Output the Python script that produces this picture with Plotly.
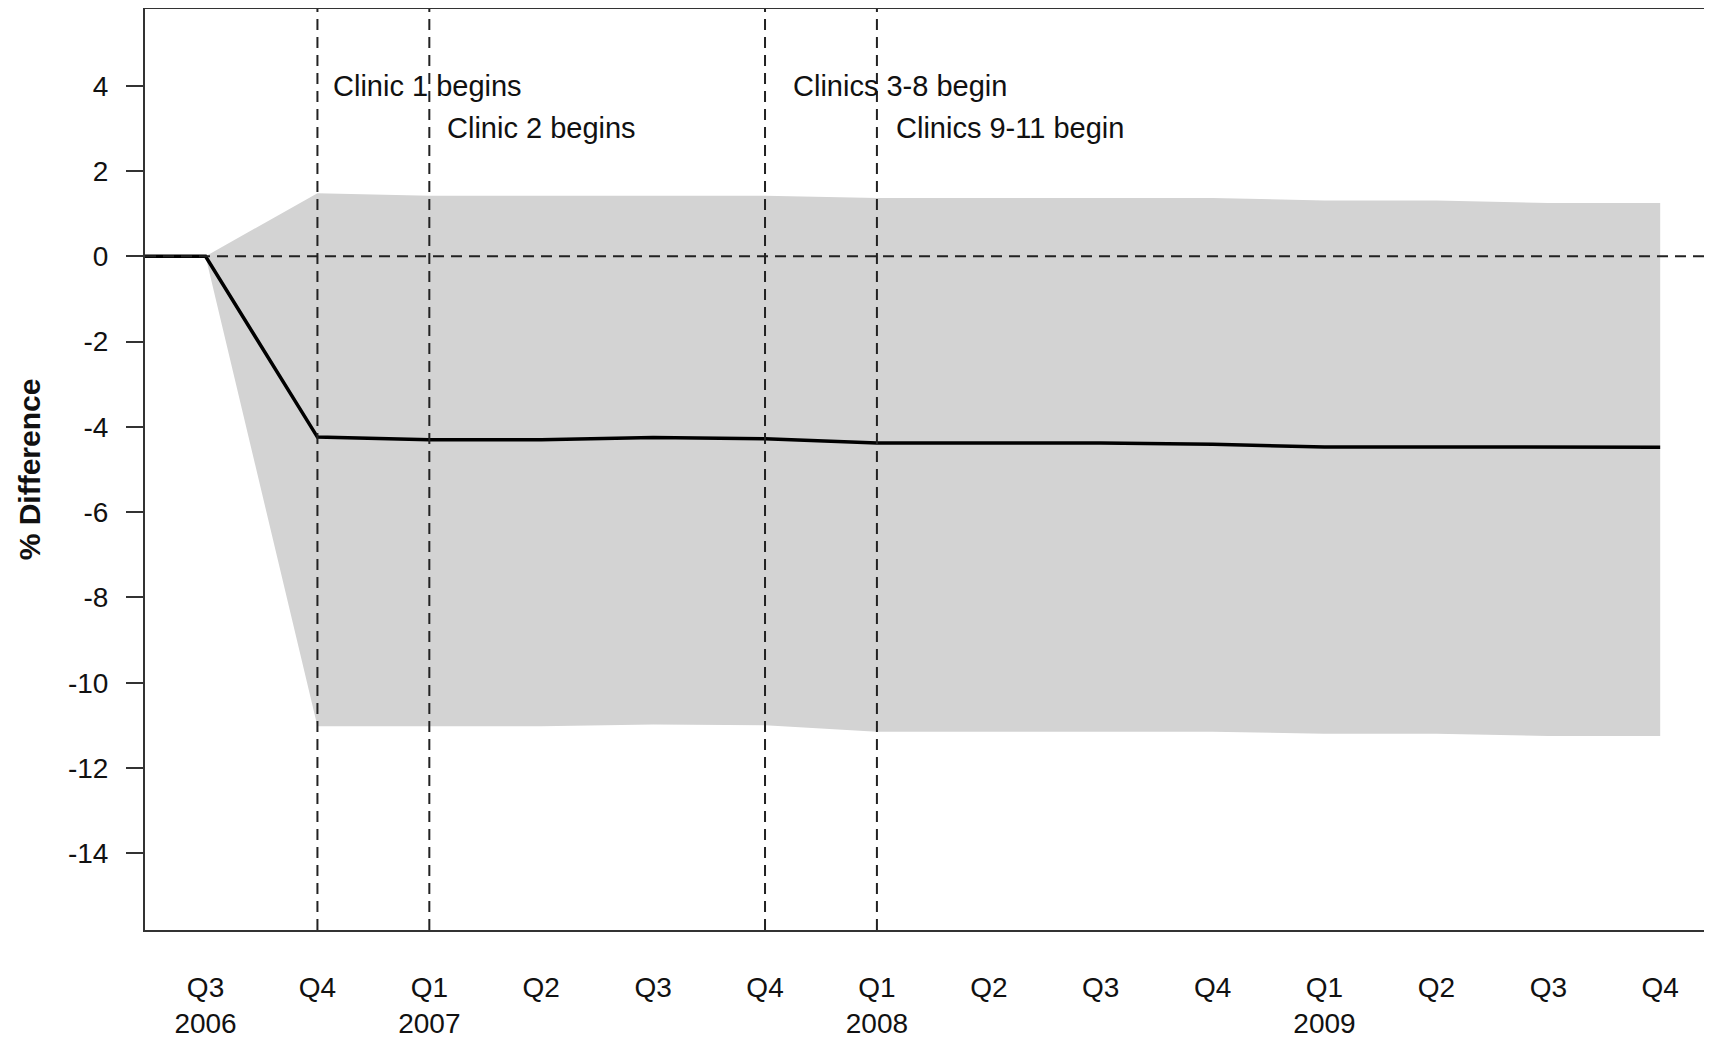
import plotly.graph_objects as go

# ---------------- data ----------------
# quarters (first entry is the pre-period point before the axis labels start)
quarter_names = ["Q2 2006", "Q3 2006", "Q4 2006", "Q1 2007", "Q2 2007", "Q3 2007", "Q4 2007",
                 "Q1 2008", "Q2 2008", "Q3 2008", "Q4 2008", "Q1 2009", "Q2 2009", "Q3 2009", "Q4 2009"]
estimate = [0, 0, -4.24, -4.30, -4.30, -4.25, -4.28, -4.38, -4.38, -4.38, -4.41, -4.47, -4.47, -4.47, -4.48]
upper = [None, 0, 1.48, 1.42, 1.42, 1.42, 1.42, 1.37, 1.37, 1.37, 1.37, 1.31, 1.31, 1.25, 1.25]
lower = [None, 0, -11.02, -11.02, -11.02, -10.98, -11.00, -11.15, -11.15, -11.15, -11.15, -11.20, -11.20, -11.25, -11.25]

tick_quarters = ["Q3", "Q4", "Q1", "Q2", "Q3", "Q4", "Q1", "Q2", "Q3", "Q4", "Q1", "Q2", "Q3", "Q4"]
tick_years = ["2006", "", "2007", "", "", "", "2008", "", "", "", "2009", "", "", ""]

y_ticks = [4, 2, 0, -2, -4, -6, -8, -10, -12, -14]

event_quarters = ["Q4 2006", "Q1 2007", "Q4 2007", "Q1 2008"]
event_labels = ["Clinic 1 begins", "Clinic 2 begins", "Clinics 3-8 begin", "Clinics 9-11 begin"]
event_label_rows = [4, 3, 4, 3]

# ---------------- derived positions (quarter index, Q3 2006 = 0) ----------------
qidx = {q: i - 1 for i, q in enumerate(quarter_names)}
x_all = [qidx[q] for q in quarter_names]

band_x = [x for x, u in zip(x_all, upper) if u is not None]
band_up = [u for u in upper if u is not None]
band_lo = [l for l in lower if l is not None]

tick_vals = list(range(len(tick_quarters)))
tick_text = [q + ("<br>" + y if y else "") for q, y in zip(tick_quarters, tick_years)]

FONT = "Liberation Sans, Arial, sans-serif"
DARK = "#222222"

fig = go.Figure()

fig.add_trace(go.Scatter(
    x=band_x + band_x[::-1],
    y=band_up + band_lo[::-1],
    fill="toself", fillcolor="#D3D3D3",
    line=dict(width=0), mode="lines", hoverinfo="skip", showlegend=False))

fig.add_trace(go.Scatter(
    x=x_all, y=estimate, mode="lines",
    line=dict(color="black", width=3.5), showlegend=False))

shapes = []
for q in event_quarters:
    shapes.append(dict(type="line", xref="x", yref="paper", x0=qidx[q], x1=qidx[q], y0=0, y1=1,
                       line=dict(color=DARK, width=2, dash="11px,7px")))
shapes.append(dict(type="line", xref="paper", yref="y", x0=0, x1=1, y0=0, y1=0,
                   line=dict(color=DARK, width=2, dash="11px,7px")))

xshifts = [14, 16, 26, 17]
annotations = []
for q, lab, row, xs in zip(event_quarters, event_labels, event_label_rows, xshifts):
    annotations.append(dict(x=qidx[q], y=row, xref="x", yref="y", text=lab, showarrow=False,
                            xanchor="left", yanchor="middle", xshift=xs,
                            font=dict(family=FONT, size=29, color="#111111")))

# page body has an 8px margin, so the figure is sized/offset to fit the 1712x1038 window
fig.update_layout(
    width=1704, height=1030,
    margin=dict(l=137, r=0, t=1, b=108),
    paper_bgcolor="white", plot_bgcolor="white",
    shapes=shapes, annotations=annotations,
    showlegend=False,
    xaxis=dict(range=[-0.541, 13.463], tickvals=tick_vals, ticktext=tick_text,
               ticks="", showline=True, linecolor="#333333", linewidth=2, mirror=True,
               showgrid=False, zeroline=False, ticklabelstandoff=31, automargin=False,
               tickfont=dict(family=FONT, size=28, color="#111111")),
    yaxis=dict(range=[-15.8, 5.8], tickvals=y_ticks, ticktext=[str(v) for v in y_ticks],
               ticks="outside", ticklen=17, tickwidth=2, tickcolor="#333333",
               showline=True, linecolor="#333333", linewidth=2, automargin=False,
               showgrid=False, zeroline=False, ticklabelstandoff=12,
               tickfont=dict(family=FONT, size=28, color="#111111"),
               title=dict(text="<b>% Difference</b>", standoff=18,
                          font=dict(family=FONT, size=30, color="#111111"))),
)

fig.write_html("out.html")
